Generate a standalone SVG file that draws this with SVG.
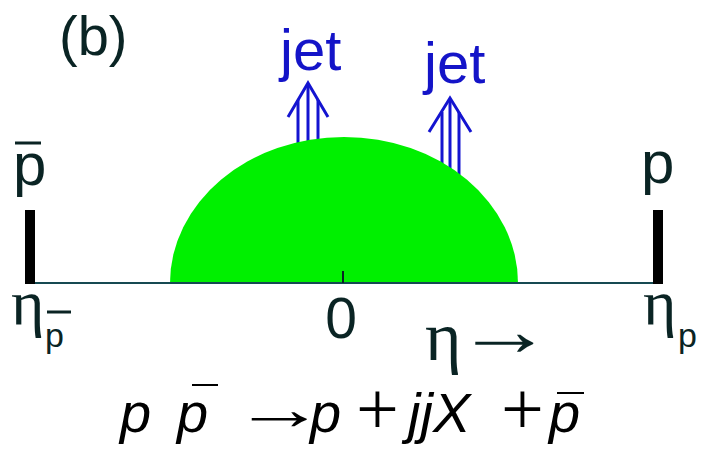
<svg xmlns="http://www.w3.org/2000/svg" width="706" height="449" viewBox="0 0 706 449">
<style>
.lbl{font-family:"Liberation Sans",Arial,sans-serif;fill:#0a2424}
.jet{font-family:"Liberation Sans",Arial,sans-serif;fill:#1414c8;font-size:58px}
.eta{font-family:"Liberation Serif","Times New Roman",serif;fill:#0a2424}
.fm{font-family:"Liberation Sans",Arial,sans-serif;font-style:italic;fill:#000;font-size:56px}
.op{font-family:"Liberation Serif","Times New Roman",serif;fill:#000}
.jl{stroke:#1414d0;stroke-width:3;fill:none}
.bar{stroke:#0a2424;stroke-width:3}
</style>
<rect width="706" height="449" fill="#fff"/>
<g id="jets">
  <g id="jet1">
    <line class="jl" x1="298" y1="100" x2="298" y2="150"/>
    <line class="jl" x1="308" y1="84" x2="308" y2="150"/>
    <line class="jl" x1="318" y1="100" x2="318" y2="150"/>
    <polyline class="jl" points="288,117 308,83 328,117"/>
    <text class="jet" x="280" y="70">jet</text>
  </g>
  <g id="jet2">
    <line class="jl" x1="442" y1="112" x2="442" y2="190"/>
    <line class="jl" x1="450" y1="99" x2="450" y2="190"/>
    <line class="jl" x1="459" y1="112" x2="459" y2="190"/>
    <polyline class="jl" points="429,132 450,98 471,132"/>
    <text class="jet" x="424" y="83">jet</text>
  </g>
</g>
<g id="central-region">
  <path d="M170,283 A174,146 0 0 1 518,283 Z" fill="#00f000"/>
</g>
<g id="axis">
  <line x1="30" y1="283" x2="658" y2="283" stroke="#164a52" stroke-width="2"/>
  <line x1="343" y1="271" x2="343" y2="283" stroke="#0a2424" stroke-width="2"/>
  <rect x="25" y="210" width="10" height="74" fill="#000"/>
  <rect x="653" y="210" width="10" height="74" fill="#000"/>
</g>
<g id="label-b"><text class="lbl" x="59" y="55" font-size="56">(b)</text></g>
<g id="label-pbar">
  <text class="lbl" x="13" y="185" font-size="60">p</text>
  <line class="bar" x1="15" y1="143" x2="41" y2="143"/>
</g>
<g id="label-p"><text class="lbl" x="641" y="183" font-size="60">p</text></g>
<g id="label-zero"><text class="lbl" x="341" y="338" font-size="57" text-anchor="middle">0</text></g>
<g id="label-eta-pbar">
  <text class="eta" x="11" y="324" font-size="64">η</text>
  <text class="lbl" x="45" y="347" font-size="34">p</text>
  <line class="bar" x1="47" y1="312" x2="71" y2="312" stroke-width="2.5"/>
</g>
<g id="label-eta-p">
  <text class="eta" x="643" y="324" font-size="64">η</text>
  <text class="lbl" x="678" y="347" font-size="34">p</text>
</g>
<g id="label-eta-axis">
  <text class="eta" x="425" y="360" font-size="70">η</text>
  <text class="lbl" transform="translate(455,0) scale(1.36,1)" x="0" y="355" font-size="72">→</text>
</g>
<g id="formula">
  <text class="fm" x="120" y="432">p</text>
  <text class="fm" x="177" y="432">p</text>
  <line x1="192" y1="385" x2="218" y2="385" stroke="#000" stroke-width="2"/>
  <text class="op" transform="translate(233,0) scale(1.55,1)" x="0" y="429" font-size="60">→</text>
  <text class="fm" x="310" y="432">p</text>
  <text class="op" x="356" y="434" font-size="76">+</text>
  <text class="fm" x="408" y="432">jjX</text>
  <text class="op" x="501" y="434" font-size="76">+</text>
  <text class="fm" x="549" y="432">p</text>
  <line x1="557" y1="393" x2="584" y2="393" stroke="#000" stroke-width="2"/>
</g>
</svg>
